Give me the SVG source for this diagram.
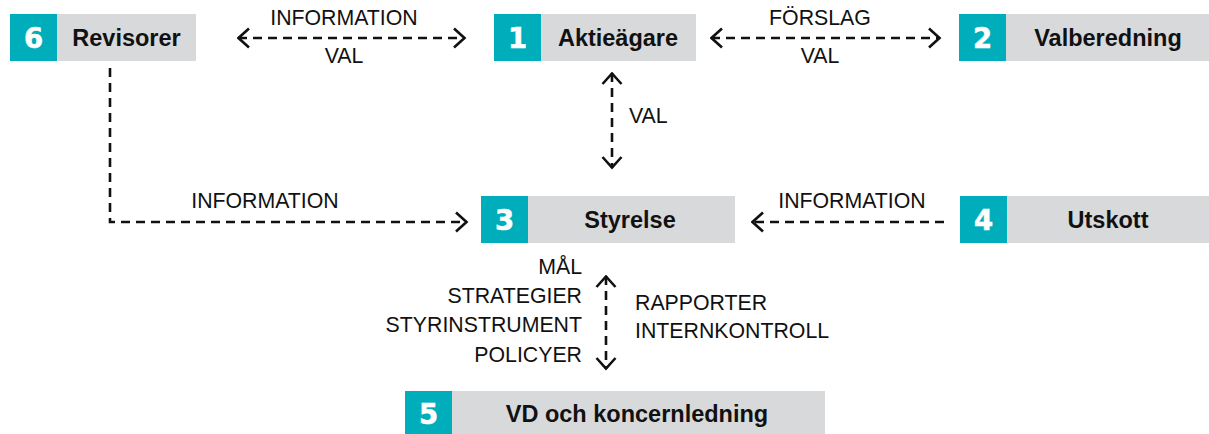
<svg xmlns="http://www.w3.org/2000/svg" width="1209" height="434" viewBox="0 0 1209 434">
<style>
.num{fill:#00AEBB}
.box{fill:#D8D9DB}
.nt{font-family:"DejaVu Sans","Liberation Sans",Arial,sans-serif;font-weight:bold;font-size:27.5px;fill:#fff;text-anchor:middle;stroke:#fff;stroke-width:0.6}
.lt{font-family:"Liberation Sans",Arial,sans-serif;font-weight:bold;font-size:23.5px;fill:#111;text-anchor:middle}
.cl{font-family:"Liberation Sans",Arial,sans-serif;font-size:21.3px;fill:#111}
.con{fill:none;stroke:#111;stroke-width:2.6;stroke-dasharray:9 6}
</style>
<defs>
<marker id="ah" markerUnits="userSpaceOnUse" viewBox="0 0 14 22" refX="12.5" refY="11" markerWidth="14" markerHeight="22" orient="auto-start-reverse">
<path d="M1.5,1.5 L12,11 L1.5,20.5" fill="none" stroke="#111" stroke-width="2.6"/>
</marker>
</defs>
<g id="node6"><rect class="num" x="10" y="14" width="47" height="47"/><rect class="box" x="57" y="14" width="139" height="47"/><text class="nt" x="33.5" y="47.5">6</text><text class="lt" x="126.5" y="46">Revisorer</text></g>
<g id="node1"><rect class="num" x="494" y="14" width="47" height="47"/><rect class="box" x="541" y="14" width="155" height="47"/><text class="nt" x="517.5" y="47.5">1</text><text class="lt" x="618" y="46">Aktieägare</text></g>
<g id="node2"><rect class="num" x="959" y="14" width="47" height="47"/><rect class="box" x="1006" y="14" width="203" height="47"/><text class="nt" x="982.5" y="47.5">2</text><text class="lt" x="1108" y="46">Valberedning</text></g>
<g id="node3"><rect class="num" x="481" y="196" width="47" height="47"/><rect class="box" x="528" y="196" width="207" height="47"/><text class="nt" x="504.5" y="229.5">3</text><text class="lt" x="630" y="228">Styrelse</text></g>
<g id="node4"><rect class="num" x="960" y="196" width="47" height="47"/><rect class="box" x="1007" y="196" width="202" height="47"/><text class="nt" x="983.5" y="229.5">4</text><text class="lt" x="1108" y="228">Utskott</text></g>
<g id="node5"><rect class="num" x="405" y="391" width="47" height="43"/><rect class="box" x="452" y="391" width="373" height="43"/><text class="nt" x="428.5" y="424">5</text><text class="lt" x="637" y="422">VD och koncernledning</text></g>
<g id="connectors">
<path class="con" d="M238,38 H465" marker-start="url(#ah)" marker-end="url(#ah)"/>
<path class="con" d="M711,38 H940" marker-start="url(#ah)" marker-end="url(#ah)"/>
<path class="con" d="M612,73 V168" marker-start="url(#ah)" marker-end="url(#ah)"/>
<path class="con" d="M110,68 V222 H467" marker-end="url(#ah)"/>
<path class="con" d="M944,222 H752" marker-end="url(#ah)"/>
<path class="con" d="M606,276 V369" marker-start="url(#ah)" marker-end="url(#ah)"/>
</g>
<g id="labels">
<text class="cl" x="344" y="25" text-anchor="middle">INFORMATION</text>
<text class="cl" x="344" y="63" text-anchor="middle">VAL</text>
<text class="cl" x="820" y="25" text-anchor="middle">FÖRSLAG</text>
<text class="cl" x="820" y="63" text-anchor="middle">VAL</text>
<text class="cl" x="629" y="123">VAL</text>
<text class="cl" x="265" y="208" text-anchor="middle">INFORMATION</text>
<text class="cl" x="852" y="208" text-anchor="middle">INFORMATION</text>
<text class="cl" x="582" y="274" text-anchor="end">MÅL</text>
<text class="cl" x="582" y="303" text-anchor="end">STRATEGIER</text>
<text class="cl" x="582" y="332" text-anchor="end">STYRINSTRUMENT</text>
<text class="cl" x="582" y="362" text-anchor="end">POLICYER</text>
<text class="cl" x="635" y="310">RAPPORTER</text>
<text class="cl" x="635" y="338">INTERNKONTROLL</text>
</g>
</svg>
